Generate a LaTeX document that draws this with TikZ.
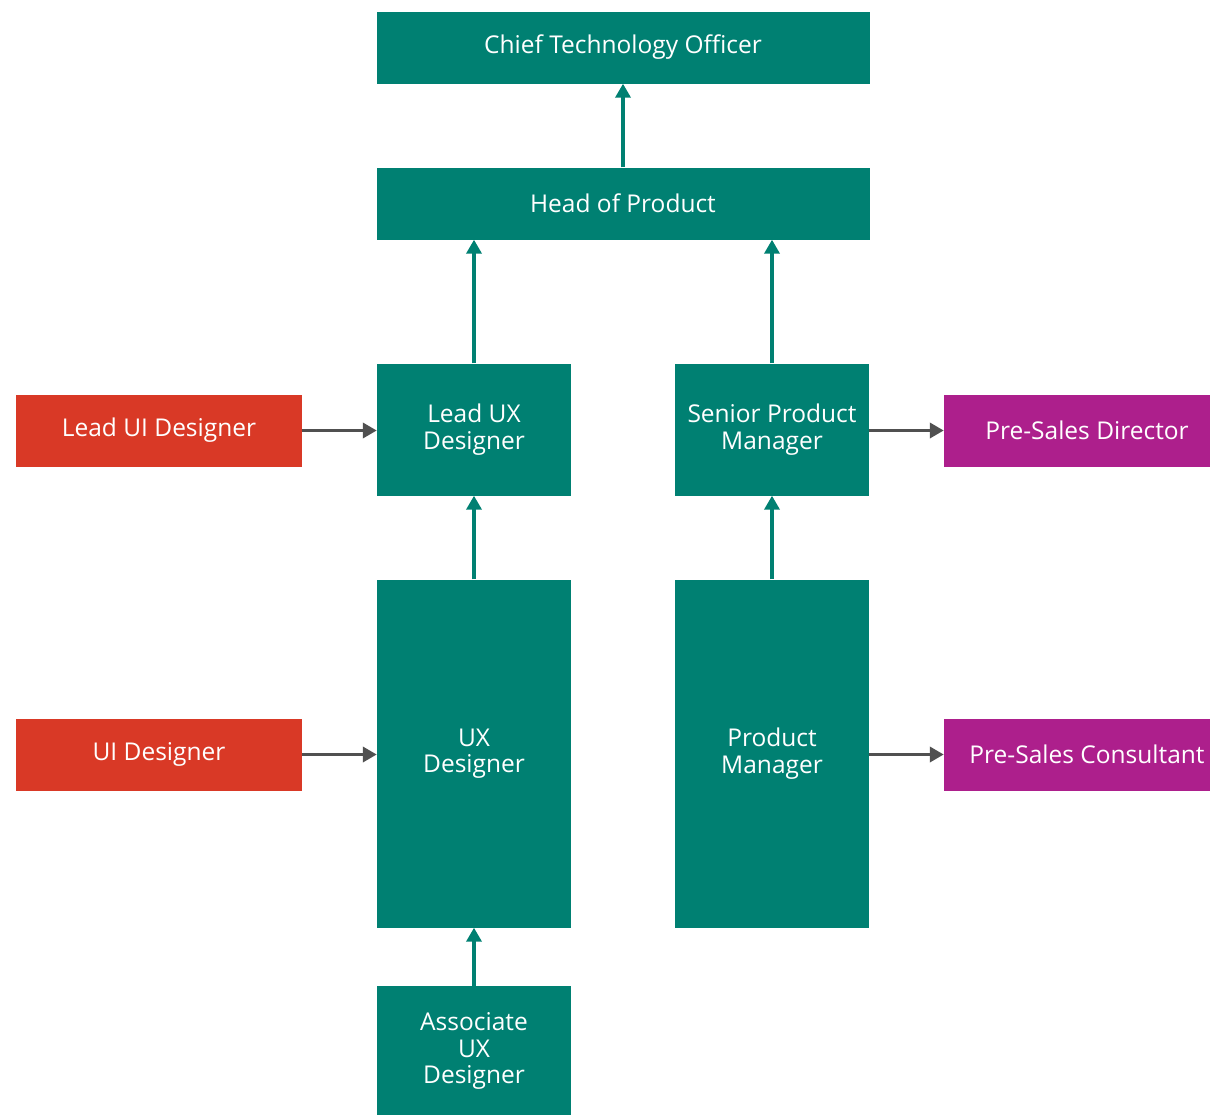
\documentclass[tikz,border=0pt]{standalone}
\usepackage{fontspec}
\setmainfont{Open Sans}
\usetikzlibrary{arrows.meta}
\definecolor{teal}{RGB}{0,128,114}
\definecolor{redbox}{RGB}{217,57,38}
\definecolor{purplebox}{RGB}{173,31,140}
\definecolor{arrowgray}{RGB}{80,80,80}
\begin{document}
\begin{tikzpicture}[x=1pt,y=-1pt,
  box/.style={draw=none,fill=teal,text=white,inner sep=0pt,align=center,
    font=\fontsize{24.5}{26.5}\selectfont},
  redrole/.style={box,fill=redbox},
  salesrole/.style={box,fill=purplebox},
  up/.style={draw=teal,line width=3.5pt,-{Triangle[length=14pt,width=15pt]}},
  side/.style={draw=arrowgray,line width=3.5pt,-{Triangle[length=14pt,width=15pt]}}]
\useasboundingbox (0,0) rectangle (1210,1114);
\clip (0,0) rectangle (1210,1114);
% management chain
\node[box,minimum width=493pt,minimum height=72pt] (cto) at (623,47.5) {Chief Technology Officer};
\node[box,minimum width=493pt,minimum height=72pt] (hop) at (623,203.5) {Head of Product};
\node[box,minimum width=194pt,minimum height=132pt] (lux) at (474,429.5) {Lead UX\\Designer};
\node[box,minimum width=194pt,minimum height=132pt] (spm) at (772,429.5) {Senior Product\\Manager};
\node[box,minimum width=194pt,minimum height=348pt] (ux) at (474,753.5) {UX\\Designer};
\node[box,minimum width=194pt,minimum height=348pt] (pm) at (772,753.5) {Product\\Manager};
\node[box,minimum width=194pt,minimum height=130pt] (aux) at (474,1051) {Associate\\UX\\Designer};
% design roles on the left
\node[redrole,minimum width=286pt,minimum height=72pt] (lui) at (159,430.5) {Lead UI Designer};
\node[redrole,minimum width=286pt,minimum height=72pt] (ui) at (159,754.5) {UI Designer};
% sales roles on the right
\node[salesrole,minimum width=286pt,minimum height=72pt] (psd) at (1087,430.5) {Pre-Sales Director};
\node[salesrole,minimum width=286pt,minimum height=72pt] (psc) at (1087,754.5) {Pre-Sales Consultant};
% reporting lines
\draw[up] (hop.north) -- (cto.south);
\draw[up] (lux.north) -- (lux.north |- hop.south);
\draw[up] (spm.north) -- (spm.north |- hop.south);
\draw[up] (ux.north) -- (lux.south);
\draw[up] (pm.north) -- (spm.south);
\draw[up] (aux.north) -- (ux.south);
\draw[side] (lui.east) -- (lui.east -| lux.west);
\draw[side] (ui.east) -- (ui.east -| ux.west);
\draw[side] (spm.east |- psd.west) -- (psd.west);
\draw[side] (pm.east |- psc.west) -- (psc.west);
\end{tikzpicture}
\end{document}
